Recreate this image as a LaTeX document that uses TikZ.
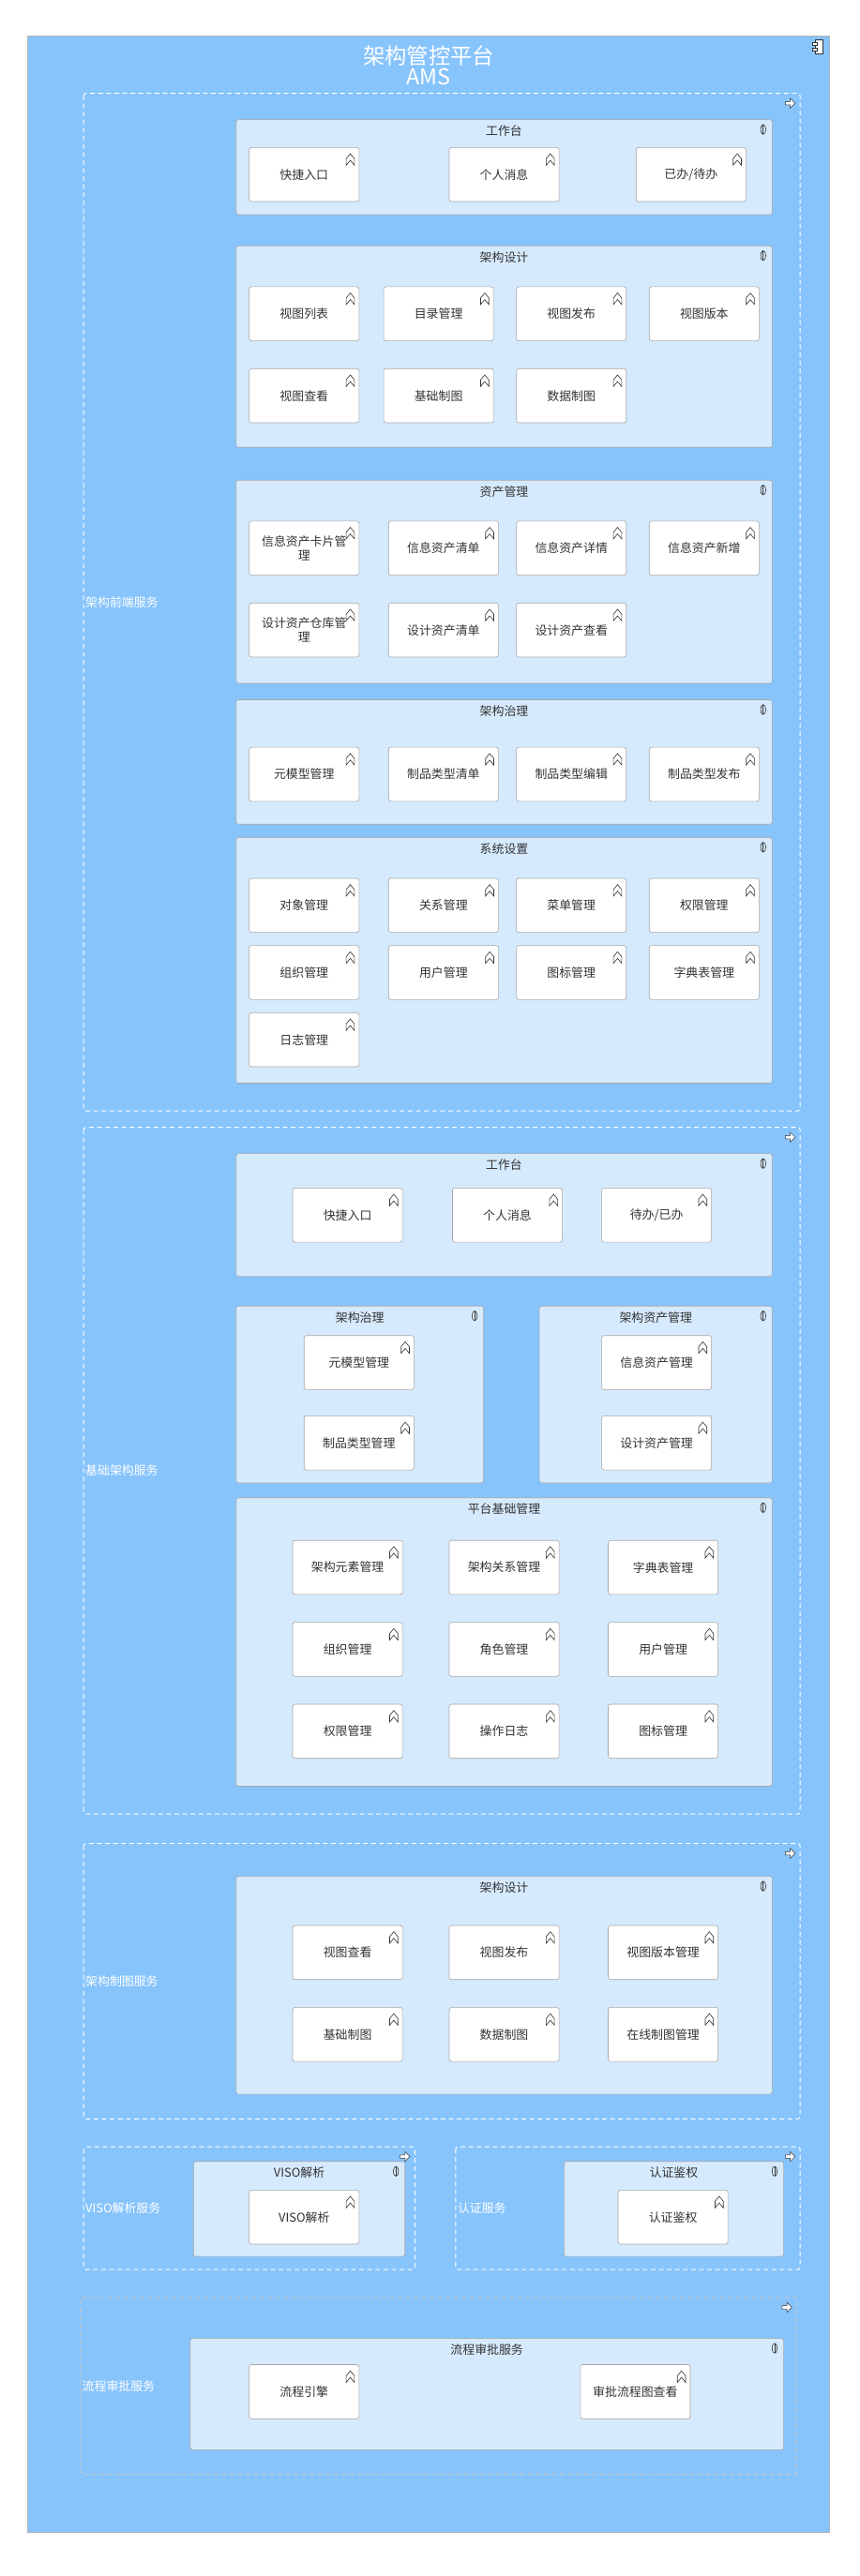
\documentclass[tikz,border=0pt]{standalone}
\usepackage{fontspec}
\setmainfont{Noto Sans CJK SC}
\begin{document}
\begin{tikzpicture}[x=0.05cm, y=-0.05cm, line width=0.5pt,
    fn/.style={draw=gray!70, fill=white, rounded corners=2pt, minimum width=67*0.05cm,
      minimum height=33*0.05cm, align=center, font=\fontsize{10.5}{12}\selectfont, text=black!80, inner sep=1pt},
    svcbox/.style={draw=gray!70, fill=svcfill, rounded corners=2pt},
    svctitle/.style={font=\fontsize{10.5}{12}\selectfont, text=black!80, inner sep=0pt},
    grp/.style={draw=white, dashed, dash pattern=on 4pt off 3pt, line width=0.8pt, rounded corners=2pt},
    grplabel/.style={font=\fontsize{10.5}{12}\selectfont, text=white, anchor=west, inner sep=0pt},
    ico/.style={draw=black!80, line width=0.5pt}]

    \definecolor{amsblue}{RGB}{135,196,252}
    \definecolor{svcfill}{RGB}{214,234,253}

    % function box with icon
    \def\fn#1#2#3#4{%
        \node[fn] (#1) at (#2,#3) {#4};%
        \draw[ico] ([shift={(-8,11)}]#1.north east) -- ++(0,-4) -- ++(2.5,-3) -- ++(2.5,3) -- ++(0,4) -- ++(-2.5,-3) -- cycle;%
    }
    % service container with title and icon
    \def\svc#1#2#3#4#5#6{%
        \draw[svcbox] (#2,#3) rectangle (#4,#5);%
        \node[svctitle] (#1) at ({(#2+#4)/2},#3+7) {#6};%
        \draw[ico] (#4-5.5,#3+6) ellipse (1.6 and 3);%
        \draw[ico] (#4-5.5,#3+3) -- (#4-5.5,#3+9);%
    }
    % dashed group with label and arrow icon
    \def\grp#1#2#3#4#5#6#7{%
        \draw[grp, #7] (#2,#3) rectangle (#4,#5);%
        \node[grplabel] (#1) at (#2+1,{(#3+#5)/2}) {#6};%
        \draw[ico, line width=0.4pt, fill=white] (#4-9,#3+5) -- ++(3,0) -- ++(0,-2) -- ++(3,3) -- ++(-3,3) -- ++(0,-2) -- ++(-3,0) -- cycle;%
    }

    \useasboundingbox (0,0) rectangle (524,1572);

    % -- Piattaforma --
    \draw[draw=gray!60, fill=amsblue] (17,22) rectangle (506,1545);
    \node[text=white, font=\fontsize{19}{21}\selectfont, align=center, inner sep=0pt] (title) at (261.5,40) {架构管控平台\\[-3pt]AMS};
    \draw[ico, fill=white] (497,24) rectangle (502,33);
    \draw[ico, fill=white] (495.5,26) rectangle (498.5,27.5);
    \draw[ico, fill=white] (495.5,29.5) rectangle (498.5,31);

    % -- Architecture front-end --
    \grp{g1}{51}{57}{488}{678}{架构前端服务}{}
    \svc{s1}{144}{73}{471}{131}{工作台}
    \fn{f11}{185.5}{106.5}{快捷入口}
    \fn{f12}{307.5}{106.5}{个人消息}
    \fn{f13}{421.5}{106.5}{已办/待办}

    \svc{s2}{144}{150}{471}{273}{架构设计}
    \fn{f21}{185.5}{191.5}{视图列表}
    \fn{f22}{267.5}{191.5}{目录管理}
    \fn{f23}{348.5}{191.5}{视图发布}
    \fn{f24}{429.5}{191.5}{视图版本}
    \fn{f25}{185.5}{241.5}{视图查看}
    \fn{f26}{267.5}{241.5}{基础制图}
    \fn{f27}{348.5}{241.5}{数据制图}

    \svc{s3}{144}{293}{471}{417}{资产管理}
    \fn{f31}{185.5}{334.5}{信息资产卡片管\\理}
    \fn{f32}{270.5}{334.5}{信息资产清单}
    \fn{f33}{348.5}{334.5}{信息资产详情}
    \fn{f34}{429.5}{334.5}{信息资产新增}
    \fn{f35}{185.5}{384.5}{设计资产仓库管\\理}
    \fn{f36}{270.5}{384.5}{设计资产清单}
    \fn{f37}{348.5}{384.5}{设计资产查看}

    \svc{s4}{144}{427}{471}{503}{架构治理}
    \fn{f41}{185.5}{472.5}{元模型管理}
    \fn{f42}{270.5}{472.5}{制品类型清单}
    \fn{f43}{348.5}{472.5}{制品类型编辑}
    \fn{f44}{429.5}{472.5}{制品类型发布}

    \svc{s5}{144}{511}{471}{661}{系统设置}
    \fn{f51}{185.5}{552.5}{对象管理}
    \fn{f52}{270.5}{552.5}{关系管理}
    \fn{f53}{348.5}{552.5}{菜单管理}
    \fn{f54}{429.5}{552.5}{权限管理}
    \fn{f55}{185.5}{593.5}{组织管理}
    \fn{f56}{270.5}{593.5}{用户管理}
    \fn{f57}{348.5}{593.5}{图标管理}
    \fn{f58}{429.5}{593.5}{字典表管理}
    \fn{f59}{185.5}{634.5}{日志管理}

    % -- Base architecture --
    \grp{g2}{51}{688}{488}{1107}{基础架构服务}{}
    \svc{s6}{144}{704}{471}{779}{工作台}
    \fn{f61}{212}{741.5}{快捷入口}
    \fn{f62}{309.5}{741.5}{个人消息}
    \fn{f63}{400.5}{741.5}{待办/已办}

    \svc{s7}{144}{797}{295}{905}{架构治理}
    \fn{f71}{219}{831.5}{元模型管理}
    \fn{f72}{219}{880.5}{制品类型管理}

    \svc{s8}{329}{797}{471}{905}{架构资产管理}
    \fn{f81}{400.5}{831.5}{信息资产管理}
    \fn{f82}{400.5}{880.5}{设计资产管理}

    \svc{s9}{144}{914}{471}{1090}{平台基础管理}
    \fn{f91}{212}{956.5}{架构元素管理}
    \fn{f92}{307.5}{956.5}{架构关系管理}
    \fn{f93}{404.5}{956.5}{字典表管理}
    \fn{f94}{212}{1006.5}{组织管理}
    \fn{f95}{307.5}{1006.5}{角色管理}
    \fn{f96}{404.5}{1006.5}{用户管理}
    \fn{f97}{212}{1056.5}{权限管理}
    \fn{f98}{307.5}{1056.5}{操作日志}
    \fn{f99}{404.5}{1056.5}{图标管理}

    % -- Drawing --
    \grp{g3}{51}{1125}{488}{1293}{架构制图服务}{}
    \svc{s10}{144}{1145}{471}{1278}{架构设计}
    \fn{f101}{212}{1191.5}{视图查看}
    \fn{f102}{307.5}{1191.5}{视图发布}
    \fn{f103}{404.5}{1191.5}{视图版本管理}
    \fn{f104}{212}{1241.5}{基础制图}
    \fn{f105}{307.5}{1241.5}{数据制图}
    \fn{f106}{404.5}{1241.5}{在线制图管理}

    % -- VISO e autenticazione --
    \grp{g4}{51}{1310}{253}{1385}{VISO解析服务}{}
    \svc{s11}{118}{1319}{247}{1377}{VISO解析}
    \fn{f111}{185.5}{1353}{VISO解析}

    \grp{g5}{278}{1310}{488}{1385}{认证服务}{}
    \svc{s12}{344}{1319}{478}{1377}{认证鉴权}
    \fn{f121}{410.5}{1353}{认证鉴权}

    % -- Approvazione --
    \grp{g6}{49}{1402}{486}{1510}{流程审批服务}{draw=gray!45}
    \svc{s13}{116}{1427}{478}{1495}{流程审批服务}
    \fn{f131}{185.5}{1459.5}{流程引擎}
    \fn{f132}{387.5}{1459.5}{审批流程图查看}

\end{tikzpicture}
\end{document}
